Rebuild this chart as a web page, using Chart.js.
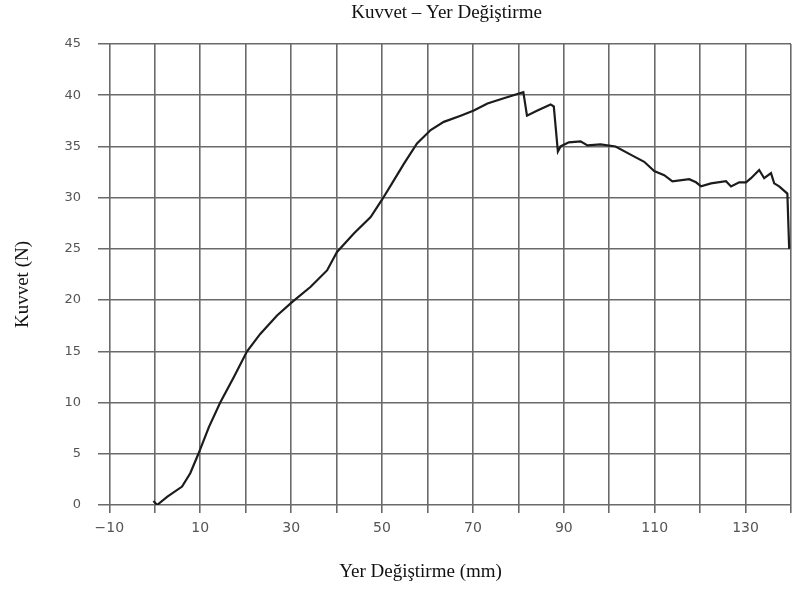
<!DOCTYPE html>
<html>
<head>
<meta charset="utf-8">
<script src="https://cdn.jsdelivr.net/npm/chart.js@4.4.0/dist/chart.umd.min.js"></script>
<style>
  html, body { margin: 0; padding: 0; background: #fff; }
  #wrap { width: 798px; height: 592px; }
</style>
</head>
<body>
<div id="wrap"><canvas id="kuvvet"></canvas></div>
<script>
// Yer degistirme (mm) ve kuvvet (N) okumalari
var yerDegistirme = [-0.3, 0.5, 2.7, 6.0, 7.8, 9.6, 11.9, 14.4, 17.4, 20.3, 23.2, 26.9, 30.2, 34.3, 37.9,
  40.1, 43.8, 47.5, 50.0, 52.2, 54.8, 57.7, 60.7, 63.6, 67.3, 70.2, 73.2, 76.8, 81.1, 81.9, 84.2, 87.1,
  87.8, 88.7, 89.3, 91.1, 93.7, 95.2, 98.1, 101.4, 104.7, 107.7, 109.9, 112.1, 113.9, 117.6, 119.1,
  120.2, 122.4, 125.7, 126.8, 128.6, 130.1, 131.2, 133.0, 134.1, 135.6, 136.3, 137.4, 139.2, 139.6];
var kuvvet = [0.4, 0.0, 0.8, 1.8, 3.1, 5.0, 7.6, 10.0, 12.5, 15.0, 16.7, 18.5, 19.8, 21.3, 22.9,
  24.7, 26.5, 28.1, 29.8, 31.4, 33.3, 35.3, 36.6, 37.4, 38.0, 38.5, 39.2, 39.7, 40.3, 38.0, 38.5, 39.1,
  38.9, 34.5, 35.0, 35.4, 35.5, 35.1, 35.2, 35.0, 34.2, 33.5, 32.6, 32.2, 31.6, 31.8, 31.5,
  31.1, 31.4, 31.6, 31.1, 31.5, 31.5, 31.9, 32.7, 31.9, 32.4, 31.4, 31.1, 30.4, 25.0];
var xTicks = [-10, 0, 10, 20, 30, 40, 50, 60, 70, 80, 90, 100, 110, 120, 130, 140];
var xEtiketler = [-10, 10, 30, 50, 70, 90, 110, 130];

var baslik = 'Kuvvet \u2013 Yer De\u011fi\u015ftirme';
var xBaslik = 'Yer De\u011fi\u015ftirme (mm)';
var yBaslik = 'Kuvvet (N)';

var points = [];
for (var i = 0; i < yerDegistirme.length; i++) {
  points.push({ x: yerDegistirme[i], y: kuvvet[i] });
}

var serif = '"Liberation Serif", "Times New Roman", serif';

// basliklar (chart alanina gore)
var basliklar = {
  id: 'basliklar',
  afterDraw: function(chart) {
    var ctx = chart.ctx, a = chart.chartArea;
    ctx.save();
    ctx.fillStyle = '#111';
    ctx.font = '19px ' + serif;
    ctx.textAlign = 'center';
    ctx.textBaseline = 'alphabetic';
    ctx.fillText(baslik, (a.left + a.right) / 2 + 2, 18);
    ctx.fillText(xBaslik, (a.left + a.right) / 2 - 24, 577);
    ctx.translate(28, (a.top + a.bottom) / 2 + 10);
    ctx.rotate(-Math.PI / 2);
    ctx.fillText(yBaslik, 0, 0);
    ctx.restore();
  }
};

var gridRenk = '#6a6a6a';
var ctx = document.getElementById('kuvvet').getContext('2d');
var myChart = new Chart(ctx, {
  type: 'line',
  data: {
    datasets: [{
      data: points,
      borderColor: '#1c1c1c',
      borderWidth: 2.2,
      pointRadius: 0,
      tension: 0,
      fill: false
    }]
  },
  options: {
    responsive: true,
    maintainAspectRatio: false,
    animation: false,
    layout: { padding: { top: 44, right: 3, left: 0, bottom: 0 } },
    plugins: {
      legend: { display: false },
      title: { display: false },
      tooltip: { enabled: false }
    },
    scales: {
      x: {
        type: 'linear',
        min: -12.5,
        max: 140,
        afterBuildTicks: function(scale) {
          scale.ticks = xTicks.map(function(v) { return { value: v }; });
        },
        afterFit: function(scale) { scale.height = 87; },
        grid: { color: gridRenk, lineWidth: 1.6, tickLength: 8, drawTicks: true },
        border: { display: false },
        ticks: {
          color: '#555',
          padding: 7,
          maxRotation: 0,
          autoSkip: false,
          font: { family: '"DejaVu Sans", sans-serif', size: 14 },
          callback: function(v) {
            if (xEtiketler.indexOf(v) < 0) return '';
            return v < 0 ? '\u2212' + Math.abs(v) : String(v);
          }
        }
      },
      y: {
        min: 0,
        max: 45,
        afterFit: function(scale) { scale.width = 98; },
        grid: { color: gridRenk, lineWidth: 1.6, drawTicks: false },
        border: { display: false },
        ticks: {
          stepSize: 5,
          color: '#555',
          padding: 17,
          font: { family: '"DejaVu Sans", sans-serif', size: 13 }
        }
      }
    }
  },
  plugins: [basliklar]
});
</script>
</body>
</html>
